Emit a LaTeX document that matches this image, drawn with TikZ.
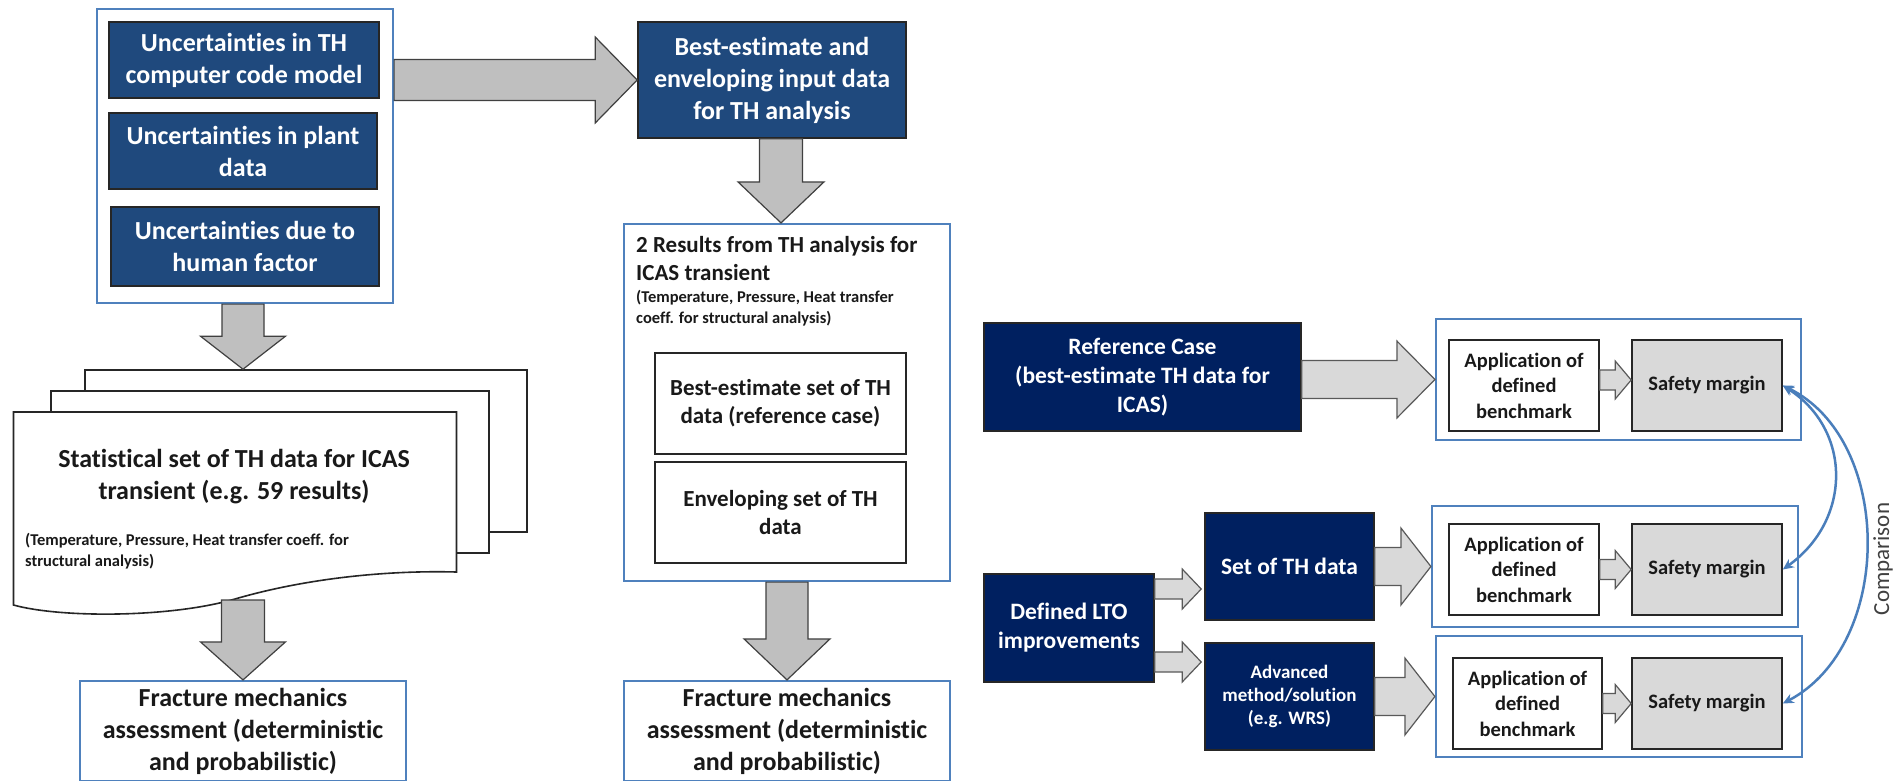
\documentclass[tikz,border=0pt]{standalone}
\usepackage{fontspec}
\setmainfont{Carlito}[Ligatures=NoCommon]
\usetikzlibrary{calc,arrows.meta}

\definecolor{deepblue}{HTML}{1F497D}
\definecolor{navyfill}{HTML}{002060}
\definecolor{frameblue}{HTML}{4F81BD}
\definecolor{arrowgray}{HTML}{BFBFBF}
\definecolor{softgray}{HTML}{D9D9D9}
\definecolor{linkblue}{HTML}{4A7EBB}

% font sizes (1pt = 1 output pixel)
\newcommand{\szHuge}{\fontsize{26}{32}\selectfont\bfseries}
\newcommand{\szTitle}{\fontsize{23}{28}\selectfont\bfseries}
\newcommand{\szNote}{\fontsize{16.5}{21}\selectfont\bfseries}
\newcommand{\szMid}{\fontsize{23.5}{29}\selectfont\bfseries}
\newcommand{\szSmall}{\fontsize{19}{23}\selectfont\bfseries}
\newcommand{\szApp}{\fontsize{20.5}{25.5}\selectfont\bfseries}

% block arrow pointing right: style, start point, tip point, shaft half width, head half width, head length
\newcommand{\rblock}[6]{%
  \draw[#1] let \p1=#2, \p2=#3 in
    (\x1,\y2+#4) -- (\x2-#6,\y2+#4) -- (\x2-#6,\y2+#5) -- (\x2,\y2) --
    (\x2-#6,\y2-#5) -- (\x2-#6,\y2-#4) -- (\x1,\y2-#4) -- cycle;}
% block arrow pointing down: style, start point, tip point, shaft half width, head half width, head length
\newcommand{\dblock}[6]{%
  \draw[#1] let \p1=#2, \p2=#3 in
    (\x2-#4,\y1) -- (\x2-#4,\y2+#6) -- (\x2-#5,\y2+#6) -- (\x2,\y2) --
    (\x2+#5,\y2+#6) -- (\x2+#4,\y2+#6) -- (\x2+#4,\y1) -- cycle;}

\begin{document}
\begin{tikzpicture}[x=1pt,y=-1pt,
  dkbox/.style={draw=black!85, line width=1.6pt, fill=deepblue, text=white, align=center, inner sep=0pt},
  nvbox/.style={draw=black!85, line width=1.6pt, fill=navyfill, text=white, align=center, inner sep=0pt},
  bluefr/.style={draw=frameblue, line width=2.2pt, fill=white, inner sep=0pt},
  wbox/.style={draw=black!85, line width=1.6pt, fill=white, text=black!90, align=center, inner sep=0pt},
  sbox/.style={wbox, fill=softgray},
  sheet/.style={draw=black!85, line width=1.6pt, fill=white, inner sep=0pt},
  garrow/.style={draw=black!75, line width=1.2pt, fill=arrowgray},
  larrow/.style={draw=black!65, line width=1.2pt, fill=softgray},
  cmp/.style={draw=linkblue, line width=2.5pt, {Stealth[length=11pt,width=10pt]}-{Stealth[length=11pt,width=10pt]}},
  txt/.style={inner sep=0pt, text=black!90},
]
\useasboundingbox (0,0) rectangle (1893,780);
\fill[white] (0,0) rectangle (1893,780);

% ---- left column: uncertainties ----
\node[bluefr, minimum width=296pt, minimum height=294pt] (Uout) at (245,156) {};
\node[dkbox, minimum width=270pt, minimum height=76pt, font=\szHuge] (U1) at (244,60) {Uncertainties in TH\\computer code model};
\node[dkbox, minimum width=268pt, minimum height=76pt, font=\szHuge] (U2) at (243,151) {Uncertainties in plant\\data};
\node[dkbox, minimum width=268pt, minimum height=79pt, font=\szHuge] (U3) at (245,246.5) {Uncertainties due to\\human factor};

% stacked result sheets
\node[sheet, minimum width=442pt, minimum height=162pt] (Back) at (306,451) {};
\node[sheet, minimum width=438pt, minimum height=162pt] (Mid) at (270,472) {};
\draw[sheet] (13.5,412) -- (456.5,412) -- (456.5,572)
  .. controls (380,570) and (300,580) .. (235,599)
  .. controls (170,618) and (60,618) .. (13.5,605) -- cycle;
\coordinate (wave) at (243,600);
\node[txt, align=center, font=\szHuge] (stat) at (234,477) {Statistical set of TH data for ICAS\\transient (e.g. 59 results)};
\node[txt, align=left, anchor=west, font=\szNote] (statnote) at (25,551) {(Temperature, Pressure, Heat transfer coeff. for\\structural analysis)};

\node[bluefr, minimum width=326pt, minimum height=100pt, align=center, font=\szHuge, text=black!90] (F1) at (243,731)
  {Fracture mechanics\\assessment (deterministic\\and probabilistic)};

% ---- middle column ----
\node[dkbox, minimum width=268pt, minimum height=116pt, font=\szHuge] (B) at (772,80) {Best-estimate and\\enveloping input data\\for TH analysis};
\node[bluefr, minimum width=326pt, minimum height=357pt] (R) at (787,402.5) {};
\node[txt, align=left, anchor=west, font=\szTitle] (Rtitle) at (636,259) {2 Results from TH analysis for\\ICAS transient};
\node[txt, align=left, anchor=west, font=\szNote] (Rnote) at (636,308.5) {(Temperature, Pressure, Heat transfer\\coeff. for structural analysis)};
\node[wbox, minimum width=251pt, minimum height=101pt, font=\szTitle] (BE) at (780.5,403.5) {Best-estimate set of TH\\data (reference case)};
\node[wbox, minimum width=251pt, minimum height=101pt, font=\szTitle] (EN) at (780.5,512.5) {Enveloping set of TH\\data};
\node[bluefr, minimum width=326pt, minimum height=100pt, align=center, font=\szHuge, text=black!90] (F2) at (787,731)
  {Fracture mechanics\\assessment (deterministic\\and probabilistic)};

% ---- right part ----
\node[nvbox, minimum width=317pt, minimum height=108pt, font=\szMid] (Ref) at (1142.5,377) {Reference Case\\(best-estimate TH data for\\ICAS)};
\node[nvbox, minimum width=170pt, minimum height=108pt, font=\szMid] (LTO) at (1069,628) {Defined LTO\\improvements};
\node[nvbox, minimum width=169pt, minimum height=107pt, font=\szMid] (Set) at (1289.5,566.5) {Set of TH data};
\node[nvbox, minimum width=169pt, minimum height=107pt, font=\szSmall] (Adv) at (1289.5,696.5) {Advanced\\method/solution\\(e.g. WRS)};

\node[bluefr, minimum width=365pt, minimum height=121pt] (Box1) at (1618.5,379.5) {};
\node[wbox, minimum width=150pt, minimum height=91pt, font=\szApp] (App1) at (1524,385.5) {Application of\\defined\\benchmark};
\node[sbox, minimum width=150pt, minimum height=91pt, font=\szApp] (S1) at (1707,385.5) {Safety margin};

\node[bluefr, minimum width=366pt, minimum height=121pt] (Box2) at (1615,566.5) {};
\node[wbox, minimum width=150pt, minimum height=91pt, font=\szApp] (App2) at (1524,569.5) {Application of\\defined\\benchmark};
\node[sbox, minimum width=150pt, minimum height=91pt, font=\szApp] (S2) at (1707,569.5) {Safety margin};

\node[bluefr, minimum width=366pt, minimum height=121pt] (Box3) at (1619,696.5) {};
\node[wbox, minimum width=149pt, minimum height=91pt, font=\szApp] (App3) at (1527.5,703.5) {Application of\\defined\\benchmark};
\node[sbox, minimum width=150pt, minimum height=91pt, font=\szApp] (S3) at (1707,703.5) {Safety margin};

\node[rotate=90, inner sep=0pt, text=black!75, font=\fontsize{23}{28}\selectfont] (cmpL) at (1883,559) {Comparison};

% ---- block arrows ----
\rblock{garrow}{(Uout.east)}{(B.west)}{20.5pt}{43pt}{42pt}
\dblock{garrow}{(Uout.south)}{(F1.north |- Back.north)}{21pt}{42.5pt}{33pt}
\dblock{garrow}{(wave)}{(F1.north)}{21.5pt}{42.5pt}{38pt}
\dblock{garrow}{(B.south)}{($(R.north)+(-6,0)$)}{21.5pt}{43pt}{41pt}
\dblock{garrow}{(R.south)}{(F2.north)}{21pt}{43pt}{41pt}

\rblock{larrow}{(Ref.east)}{(Box1.west)}{19pt}{38.5pt}{38pt}
\rblock{larrow}{(Set.east)}{(Box2.west)}{19pt}{38.5pt}{30pt}
\rblock{larrow}{(Adv.east)}{(Box3.west)}{19pt}{38.5pt}{30pt}
\rblock{larrow}{(LTO.east)}{($(Set.west)+(-3,22.5)$)}{10pt}{20pt}{19pt}
\rblock{larrow}{(LTO.east)}{($(Adv.west)+(-3,-34.5)$)}{10pt}{20pt}{19pt}
\rblock{larrow}{(App1.east)}{($(S1.west)+(0,-5.5)$)}{10pt}{19pt}{16pt}
\rblock{larrow}{(App2.east)}{(S2.west)}{10pt}{19pt}{16pt}
\rblock{larrow}{(App3.east)}{(S3.west)}{10pt}{19pt}{16pt}

% ---- comparison links ----
\draw[cmp] (S1.east) .. controls (1852,430) and (1852,520) .. (S2.east);
\draw[cmp] (S1.east) .. controls (1894,440) and (1894,645) .. (S3.east);
\end{tikzpicture}
\end{document}
